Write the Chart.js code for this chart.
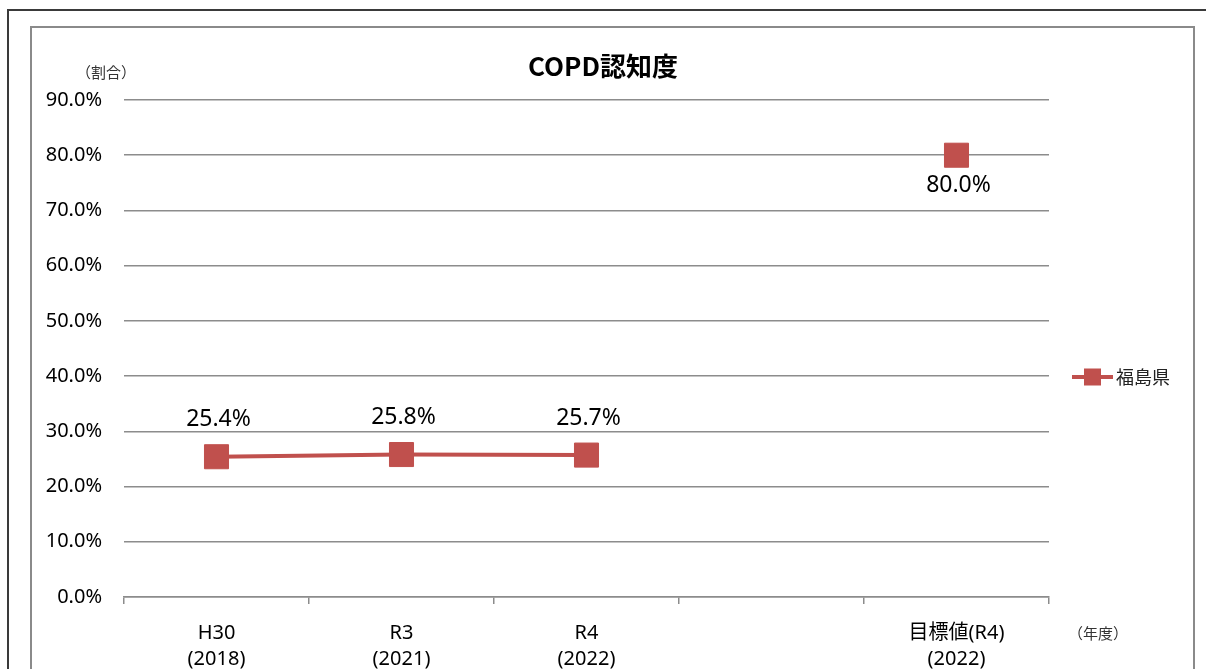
<!DOCTYPE html>
<html><head><meta charset="utf-8">
<script src="https://cdn.jsdelivr.net/npm/chart.js@4.4.1/dist/chart.umd.min.js"></script>
<style>html,body{margin:0;padding:0;background:#fff;overflow:hidden}</style>
</head><body>
<canvas id="c" width="1206" height="669"></canvas>
<script>
// ---- data ----
const categories = [['H30', '(2018)'], ['R3', '(2021)'], ['R4', '(2022)'], '', ['目標値(R4)', '(2022)']];
const seriesName = '福島県';
const fukushimaValues = [25.4, 25.8, 25.7, null, 80.0];
const yMin = 0;
const yMax = 90;
const yStep = 10;
const chartTitle = 'COPD認知度';
const yUnitLabel = '（割合）';
const xUnitLabel = '（年度）';

// ---- styles ----
const RED = '#C0504D';
const GRID = '#8c8c8c';
const LATIN = '"Noto Sans", "Noto Sans CJK JP", sans-serif';
const CJK = '"Noto Sans CJK JP", "Noto Sans", sans-serif';

const decorPlugin = {
  id: 'decor',
  beforeDraw(chart) {
    const ctx = chart.ctx;
    ctx.save();
    ctx.fillStyle = '#fff';
    ctx.fillRect(0, 0, chart.width, chart.height);
    // outer frame
    ctx.strokeStyle = '#3a3a3a';
    ctx.lineWidth = 2;
    ctx.beginPath();
    ctx.moveTo(8, chart.height + 2);
    ctx.lineTo(8, 10);
    ctx.lineTo(chart.width + 2, 10);
    ctx.stroke();
    // inner frame
    ctx.strokeStyle = '#8a8a8a';
    ctx.beginPath();
    ctx.moveTo(31, chart.height + 2);
    ctx.lineTo(31, 27);
    ctx.lineTo(1194, 27);
    ctx.lineTo(1194, chart.height + 2);
    ctx.stroke();
    ctx.restore();
  },
  afterDraw(chart) {
    const ctx = chart.ctx;
    const ds = chart.data.datasets[0];
    const meta = chart.getDatasetMeta(0);
    ctx.save();
    // title
    ctx.fillStyle = '#000';
    ctx.font = 'bold 26px ' + CJK;
    ctx.textAlign = 'center';
    ctx.textBaseline = 'middle';
    ctx.fillText(chartTitle, 603, 66);
    // unit labels
    ctx.fillStyle = '#333';
    ctx.font = '15px ' + CJK;
    ctx.textAlign = 'left';
    ctx.fillText(yUnitLabel, 76, 72);
    ctx.fillText(xUnitLabel, 1068, 633);
    // data labels
    ctx.fillStyle = '#000';
    ctx.font = '23px ' + LATIN;
    ctx.textAlign = 'center';
    ds.data.forEach((v, i) => {
      if (v === null) return;
      const el = meta.data[i];
      const below = i === categories.length - 1;
      ctx.fillText(v.toFixed(1) + '%', el.x + 2, below ? el.y + 30 : el.y - 37);
    });
    // legend
    const ly = 377;
    ctx.strokeStyle = ds.borderColor;
    ctx.lineWidth = 4;
    ctx.beginPath();
    ctx.moveTo(1072, ly);
    ctx.lineTo(1113, ly);
    ctx.stroke();
    ctx.fillStyle = ds.pointBackgroundColor;
    ctx.fillRect(1092.5 - 8.5, ly - 8.5, 17, 17);
    ctx.fillStyle = '#222';
    ctx.font = '18px ' + CJK;
    ctx.textAlign = 'left';
    ctx.fillText(ds.label, 1116, ly);
    ctx.restore();
  }
};

new Chart(document.getElementById('c'), {
  type: 'line',
  data: {
    labels: categories,
    datasets: [{
      label: seriesName,
      data: fukushimaValues,
      borderColor: RED,
      backgroundColor: RED,
      pointBackgroundColor: RED,
      pointBorderColor: RED,
      borderWidth: 4,
      pointStyle: 'rect',
      pointRadius: 17,
      pointBorderWidth: 1,
      spanGaps: false,
      tension: 0
    }]
  },
  options: {
    responsive: false,
    devicePixelRatio: 1,
    animation: false,
    layout: { padding: { left: 40, right: 157, top: 100, bottom: 0 } },
    plugins: { legend: { display: false }, title: { display: false }, tooltip: { enabled: false } },
    scales: {
      x: {
        type: 'category',
        offset: true,
        grid: { offset: true, drawOnChartArea: false, drawTicks: true, tickLength: 7, color: GRID, lineWidth: 1.5 },
        border: { display: true, color: GRID, width: 1.5 },
        ticks: { color: '#000', font: { family: LATIN, size: 20, lineHeight: 1.3 }, padding: 16, maxRotation: 0, autoSkip: false },
        afterFit(scale) { scale.height = 72; }
      },
      y: {
        min: yMin,
        max: yMax,
        ticks: { stepSize: yStep, color: '#000', font: { family: LATIN, size: 20 }, padding: 22,
          callback: v => v.toFixed(1) + '%' },
        grid: { color: GRID, lineWidth: 1.5, drawTicks: false },
        border: { display: false },
        afterFit(scale) { scale.width = 84; }
      }
    }
  },
  plugins: [decorPlugin]
});
</script>
</body></html>
